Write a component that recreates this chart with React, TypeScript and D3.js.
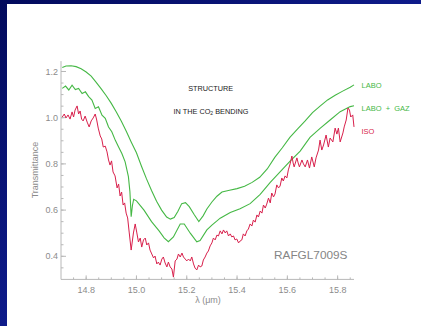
import React from "react";
import * as d3 from "d3";

// Laboratory spectrum (LABO)
const laboWavelength = [14.705, 14.72, 14.74, 14.76, 14.78, 14.8, 14.82, 14.84, 14.86, 14.88, 14.9, 14.92, 14.94, 14.96, 14.98, 15.0, 15.02, 15.04, 15.06, 15.08, 15.1, 15.12, 15.135, 15.15, 15.165, 15.18, 15.195, 15.21, 15.23, 15.248, 15.265, 15.28, 15.3, 15.32, 15.34, 15.37, 15.4, 15.43, 15.46, 15.49, 15.52, 15.55, 15.58, 15.61, 15.64, 15.67, 15.7, 15.73, 15.76, 15.79, 15.82, 15.85, 15.865];
const laboTransmittance = [1.217, 1.224, 1.225, 1.221, 1.212, 1.198, 1.18, 1.153, 1.125, 1.095, 1.062, 1.025, 0.985, 0.94, 0.893, 0.848, 0.79, 0.735, 0.685, 0.638, 0.6, 0.57, 0.561, 0.568, 0.595, 0.628, 0.632, 0.615, 0.58, 0.55, 0.575, 0.605, 0.635, 0.66, 0.678, 0.686, 0.693, 0.703, 0.72, 0.742, 0.778, 0.828, 0.87, 0.915, 0.95, 0.985, 1.022, 1.05, 1.077, 1.097, 1.115, 1.132, 1.142];

// Laboratory spectrum with gas phase (LABO + GAZ)
const gazWavelength = [14.705, 14.718, 14.731, 14.744, 14.757, 14.77, 14.784, 14.797, 14.81, 14.823, 14.836, 14.849, 14.863, 14.876, 14.889, 14.902, 14.916, 14.929, 14.942, 14.955, 14.968, 14.974, 14.979, 14.984, 14.989, 15.0, 15.03, 15.06, 15.09, 15.11, 15.127, 15.147, 15.174, 15.19, 15.214, 15.24, 15.253, 15.28, 15.3, 15.333, 15.373, 15.412, 15.452, 15.492, 15.532, 15.571, 15.611, 15.651, 15.69, 15.73, 15.77, 15.81, 15.85, 15.865];
const gazTransmittance = [1.127, 1.137, 1.12, 1.141, 1.122, 1.127, 1.105, 1.112, 1.091, 1.076, 1.04, 1.047, 1.011, 0.997, 0.96, 0.939, 0.902, 0.873, 0.845, 0.809, 0.745, 0.68, 0.571, 0.62, 0.647, 0.64, 0.6, 0.55, 0.51, 0.48, 0.463, 0.484, 0.54, 0.54, 0.5, 0.463, 0.468, 0.514, 0.535, 0.565, 0.59, 0.606, 0.628, 0.668, 0.72, 0.765, 0.812, 0.855, 0.915, 0.954, 0.99, 1.026, 1.048, 1.052];

// ISO observed spectrum
const isoWavelength = [14.705, 14.713, 14.72, 14.728, 14.736, 14.744, 14.75, 14.756, 14.764, 14.77, 14.776, 14.782, 14.788, 14.796, 14.804, 14.812, 14.82, 14.828, 14.836, 14.842, 14.848, 14.856, 14.862, 14.868, 14.876, 14.883, 14.889, 14.895, 14.901, 14.907, 14.915, 14.923, 14.929, 14.935, 14.941, 14.947, 14.953, 14.959, 14.965, 14.971, 14.979, 14.988, 14.995, 15.001, 15.008, 15.015, 15.021, 15.028, 15.035, 15.041, 15.048, 15.054, 15.061, 15.068, 15.074, 15.081, 15.087, 15.094, 15.101, 15.107, 15.114, 15.121, 15.127, 15.134, 15.141, 15.147, 15.154, 15.161, 15.167, 15.174, 15.181, 15.187, 15.194, 15.2, 15.207, 15.214, 15.22, 15.227, 15.233, 15.24, 15.247, 15.253, 15.26, 15.266, 15.273, 15.28, 15.286, 15.293, 15.3, 15.306, 15.313, 15.32, 15.326, 15.333, 15.34, 15.346, 15.353, 15.359, 15.366, 15.373, 15.379, 15.386, 15.392, 15.399, 15.406, 15.412, 15.419, 15.425, 15.432, 15.439, 15.445, 15.452, 15.459, 15.465, 15.472, 15.479, 15.485, 15.492, 15.499, 15.505, 15.512, 15.518, 15.525, 15.532, 15.538, 15.545, 15.551, 15.558, 15.565, 15.571, 15.578, 15.584, 15.591, 15.598, 15.604, 15.611, 15.618, 15.623, 15.627, 15.638, 15.643, 15.648, 15.658, 15.664, 15.671, 15.68, 15.688, 15.697, 15.707, 15.714, 15.724, 15.73, 15.737, 15.744, 15.754, 15.763, 15.77, 15.781, 15.79, 15.797, 15.803, 15.81, 15.821, 15.826, 15.834, 15.841, 15.847, 15.852, 15.86, 15.865];
const isoTransmittance = [1.003, 1.016, 0.999, 1.012, 0.994, 1.025, 1.003, 1.033, 1.051, 1.016, 1.029, 0.994, 0.986, 1.007, 0.981, 0.96, 0.986, 0.999, 1.016, 0.99, 0.955, 0.921, 0.908, 0.873, 0.877, 0.852, 0.817, 0.795, 0.813, 0.765, 0.748, 0.696, 0.713, 0.661, 0.678, 0.622, 0.631, 0.587, 0.566, 0.505, 0.427, 0.501, 0.54, 0.505, 0.462, 0.479, 0.44, 0.471, 0.479, 0.449, 0.458, 0.427, 0.41, 0.393, 0.401, 0.367, 0.375, 0.362, 0.388, 0.397, 0.371, 0.354, 0.375, 0.354, 0.345, 0.31, 0.38, 0.388, 0.41, 0.397, 0.414, 0.397, 0.388, 0.38, 0.388, 0.38, 0.397, 0.367, 0.349, 0.341, 0.362, 0.354, 0.358, 0.384, 0.397, 0.414, 0.423, 0.445, 0.458, 0.479, 0.471, 0.492, 0.488, 0.51, 0.497, 0.514, 0.501, 0.51, 0.488, 0.497, 0.484, 0.488, 0.471, 0.475, 0.458, 0.466, 0.471, 0.497, 0.488, 0.51, 0.518, 0.54, 0.531, 0.557, 0.548, 0.579, 0.57, 0.596, 0.587, 0.622, 0.609, 0.626, 0.652, 0.631, 0.674, 0.657, 0.67, 0.709, 0.696, 0.704, 0.739, 0.726, 0.748, 0.739, 0.774, 0.8, 0.834, 0.804, 0.787, 0.826, 0.804, 0.787, 0.817, 0.8, 0.787, 0.817, 0.782, 0.83, 0.787, 0.826, 0.86, 0.903, 0.86, 0.882, 0.925, 0.873, 0.912, 0.895, 0.955, 0.929, 0.955, 0.895, 0.934, 0.96, 0.99, 1.042, 1.033, 1.003, 1.012, 0.96];

const xTickValues = [14.8, 15.0, 15.2, 15.4, 15.6, 15.8];
const yTickValues = [0.4, 0.6, 0.8, 1.0, 1.2];

const GREEN = "#45b845";
const RED = "#d81f4b";
const AXIS = "#b8b8b8";
const LABEL = "#8c8c8c";
const FONT = "'Liberation Sans', Arial, sans-serif";

export default function App() {
  const width = 421;
  const height = 326;

  const x = d3.scaleLinear().domain([14.7, 15.865]).range([61, 354]);
  const y = d3.scaleLinear().domain([0.3, 1.245]).range([279.4, 61.1]);

  const line = d3
    .line<[number, number]>()
    .x((d) => x(d[0]))
    .y((d) => y(d[1]));

  const pairs = (xs: number[], ys: number[]) =>
    xs.map((v, i) => [v, ys[i]] as [number, number]);

  const xMinor = d3.range(14.75, 15.866, 0.05);
  const yMinor = d3.range(0.35, 1.245, 0.05);

  const x0 = x.range()[0];
  const y0 = y.range()[0];

  return (
    <svg
      width={width}
      height={height}
      style={{ position: "fixed", left: 0, top: 0, display: "block" }}
    >
      <defs>
        <linearGradient id="bg" x1="0" y1="0" x2="1" y2="1">
          <stop offset="0%" stopColor="#020a5c" />
          <stop offset="100%" stopColor="#1a2cb8" />
        </linearGradient>
      </defs>
      <rect x={0} y={0} width={width} height={height} fill="url(#bg)" />
      <rect x={7} y={4} width={width - 7} height={height - 4} fill="#ffffff" />

      {/* axes */}
      <line x1={x0} x2={x(15.865)} y1={y0} y2={y0} stroke={AXIS} strokeWidth={1} />
      <line x1={x0} x2={x0} y1={y0} y2={y(1.245)} stroke={AXIS} strokeWidth={1} />

      {xMinor.map((v) => (
        <line key={"xm" + v} x1={x(v)} x2={x(v)} y1={y0} y2={y0 - 2} stroke={AXIS} />
      ))}
      {xTickValues.map((v) => (
        <g key={"xt" + v}>
          <line x1={x(v)} x2={x(v)} y1={y0} y2={y0 - 4} stroke={AXIS} />
          <text
            x={x(v)}
            y={y0 + 13.5}
            textAnchor="middle"
            fontFamily={FONT}
            fontSize={9}
            fill={LABEL}
          >
            {v.toFixed(1)}
          </text>
        </g>
      ))}

      {yMinor.map((v) => (
        <line key={"ym" + v} x1={x0} x2={x0 + 2.5} y1={y(v)} y2={y(v)} stroke={AXIS} />
      ))}
      {yTickValues.map((v) => (
        <g key={"yt" + v}>
          <line x1={x0} x2={x0 + 5} y1={y(v)} y2={y(v)} stroke={AXIS} />
          <text
            x={x0 - 3}
            y={y(v) + 3.2}
            textAnchor="end"
            fontFamily={FONT}
            fontSize={9}
            fill={LABEL}
          >
            {v.toFixed(1)}
          </text>
        </g>
      ))}

      <text
        x={208}
        y={303}
        textAnchor="middle"
        fontFamily={FONT}
        fontSize={9}
        fill={LABEL}
      >
        λ (μm)
      </text>
      <text
        transform="translate(38,170) rotate(-90)"
        textAnchor="middle"
        fontFamily={FONT}
        fontSize={9}
        fill={LABEL}
      >
        Transmittance
      </text>

      {/* spectra */}
      <path d={line(pairs(laboWavelength, laboTransmittance)) ?? ""} fill="none" stroke={GREEN} strokeWidth={1.1} />
      <path d={line(pairs(gazWavelength, gazTransmittance)) ?? ""} fill="none" stroke={GREEN} strokeWidth={1.1} />
      <path d={line(pairs(isoWavelength, isoTransmittance)) ?? ""} fill="none" stroke={RED} strokeWidth={1} strokeLinejoin="round" />

      {/* annotations */}
      <text x={210.7} y={91} textAnchor="middle" fontFamily={FONT} fontSize={7.3} fill="#1a1a1a">
        STRUCTURE
      </text>
      <text x={211} y={113.6} textAnchor="middle" fontFamily={FONT} fontSize={7.3} fill="#1a1a1a">
        IN THE CO<tspan fontSize={5} dy={1.5}>2</tspan>
        <tspan dy={-1.5}> BENDING</tspan>
      </text>

      <text x={361.5} y={88} fontFamily={FONT} fontSize={7.5} fill={GREEN}>
        LABO
      </text>
      <text x={361.5} y={111} fontFamily={FONT} fontSize={7.5} fill={GREEN} xmlSpace="preserve">
        LABO  +  GAZ
      </text>
      <text x={361.5} y={134.2} fontFamily={FONT} fontSize={7.5} fill={RED}>
        ISO
      </text>

      <text x={274} y={258.5} fontFamily={FONT} fontSize={11.8} fill="#858585">
        RAFGL7009S
      </text>
    </svg>
  );
}
